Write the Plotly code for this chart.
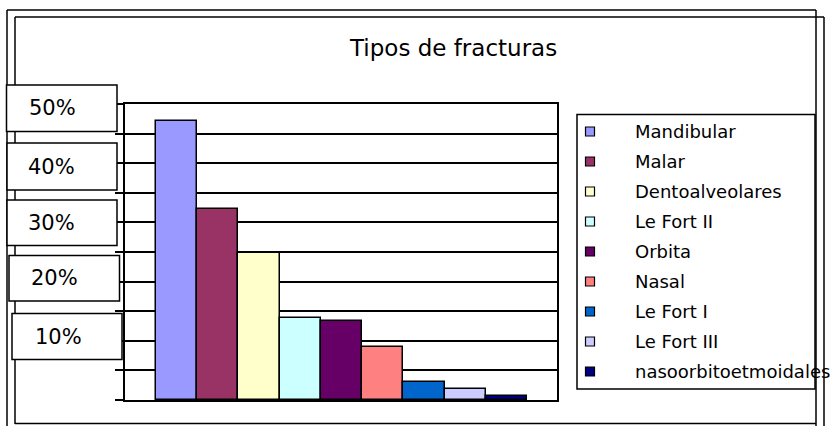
import plotly.graph_objects as go

# ---- data ----
categorias = ["Mandibular", "Malar", "Dentoalveolares", "Le Fort II", "Orbita",
              "Nasal", "Le Fort I", "Le Fort III", "nasoorbitoetmoidales"]
valores = [47.1, 32.3, 24.9, 13.9, 13.4, 8.9, 3.1, 1.9, 0.7]
colores = ["#9999FF", "#993366", "#FFFFCC", "#CCFFFF", "#660066",
           "#FF8080", "#0066CC", "#CCCCFF", "#000080"]
etiquetas_y = ["50%", "40%", "30%", "20%", "10%"]
titulo = "Tipos de fracturas"

W, H = 838, 426
L, R, T, B = 125, 557, 104, 400


def px(X):
    return (X - L) / (R - L)


def py(Y):
    return (B - Y) / (B - T)


fig = go.Figure()
fig.add_trace(go.Bar(
    x=categorias, y=valores,
    marker=dict(color=colores, line=dict(color="black", width=1.5)),
    showlegend=False, hoverinfo="x+y",
))

shapes = []
annotations = []

# outer double frame
blk = dict(color="black", width=1.5)
shapes.append(dict(type="line", xref="paper", yref="paper", x0=px(7), x1=px(7), y0=py(10), y1=py(430), line=blk))
shapes.append(dict(type="line", xref="paper", yref="paper", x0=px(7), x1=px(816), y0=py(10), y1=py(10), line=blk))
shapes.append(dict(type="line", xref="paper", yref="paper", x0=px(816), x1=px(816), y0=py(10), y1=py(430), line=blk))
shapes.append(dict(type="line", xref="paper", yref="paper", x0=px(15), x1=px(15), y0=py(17), y1=py(424), line=blk))
shapes.append(dict(type="line", xref="paper", yref="paper", x0=px(15), x1=px(824), y0=py(17), y1=py(17), line=blk))
shapes.append(dict(type="line", xref="paper", yref="paper", x0=px(824), x1=px(824), y0=py(17), y1=py(430), line=blk))
shapes.append(dict(type="line", xref="paper", yref="paper", x0=px(15), x1=px(816), y0=py(423.5), y1=py(423.5), line=blk))

# y label boxes
cajas = [(6.5, 85, 117, 131.5, 52), (7, 143, 117, 190, 51.5), (7, 200, 117, 245.5, 51.5),
         (9, 255.5, 119.5, 301, 54), (12, 313.5, 122, 359.5, 58.5)]
for lab, (x0, y0, x1, y1, tx) in zip(etiquetas_y, cajas):
    shapes.append(dict(type="rect", xref="paper", yref="paper",
                       x0=px(x0), x1=px(x1), y0=py(y1), y1=py(y0),
                       line=blk, fillcolor="white"))
    annotations.append(dict(xref="paper", yref="paper", x=px(tx), y=py((y0 + y1) / 2),
                            text=lab, showarrow=False, xanchor="center", yanchor="middle",
                            font=dict(family="DejaVu Sans", size=21, color="black")))

# legend box
shapes.append(dict(type="rect", xref="paper", yref="paper",
                   x0=px(577), x1=px(815), y0=py(389), y1=py(114.5),
                   line=blk, fillcolor="white"))
for i, (nm, c) in enumerate(zip(categorias, colores)):
    yc = 131.5 + 30 * i
    shapes.append(dict(type="rect", xref="paper", yref="paper",
                       x0=px(585.5), x1=px(594.5), y0=py(yc + 4.5), y1=py(yc - 4.5),
                       line=dict(color="black", width=1.2), fillcolor=c))
    annotations.append(dict(xref="paper", yref="paper", x=px(633), y=py(yc),
                            text=nm, showarrow=False, xanchor="left", yanchor="middle",
                            font=dict(family="DejaVu Sans", size=18, color="black")))

# title
annotations.append(dict(xref="paper", yref="paper", x=px(452.5), y=py(48),
                        text=titulo, showarrow=False, xanchor="center", yanchor="middle",
                        font=dict(family="DejaVu Sans", size=23, color="black")))

fig.update_layout(
    width=W, height=H,
    margin=dict(l=L, r=W - R, t=T, b=H - B, pad=0, autoexpand=False),
    paper_bgcolor="white", plot_bgcolor="white",
    bargap=0,
    shapes=shapes, annotations=annotations,
    xaxis=dict(range=[-1.252, 9.228], showticklabels=False, ticks="", showgrid=False,
               showline=True, linecolor="black", linewidth=1.5, mirror=True, zeroline=False,
               fixedrange=True),
    yaxis=dict(range=[0, 50], tick0=0, dtick=5, showticklabels=False,
               ticks="outside", ticklen=8, tickcolor="black", tickwidth=1.5,
               showgrid=True, gridcolor="black", gridwidth=1.5,
               showline=True, linecolor="black", linewidth=1.5, mirror=True, zeroline=False,
               fixedrange=True),
    showlegend=False,
)

fig.write_html("out.html", config={"displayModeBar": False},
               post_script="document.body.style.margin='0';document.body.style.overflow='hidden';")
